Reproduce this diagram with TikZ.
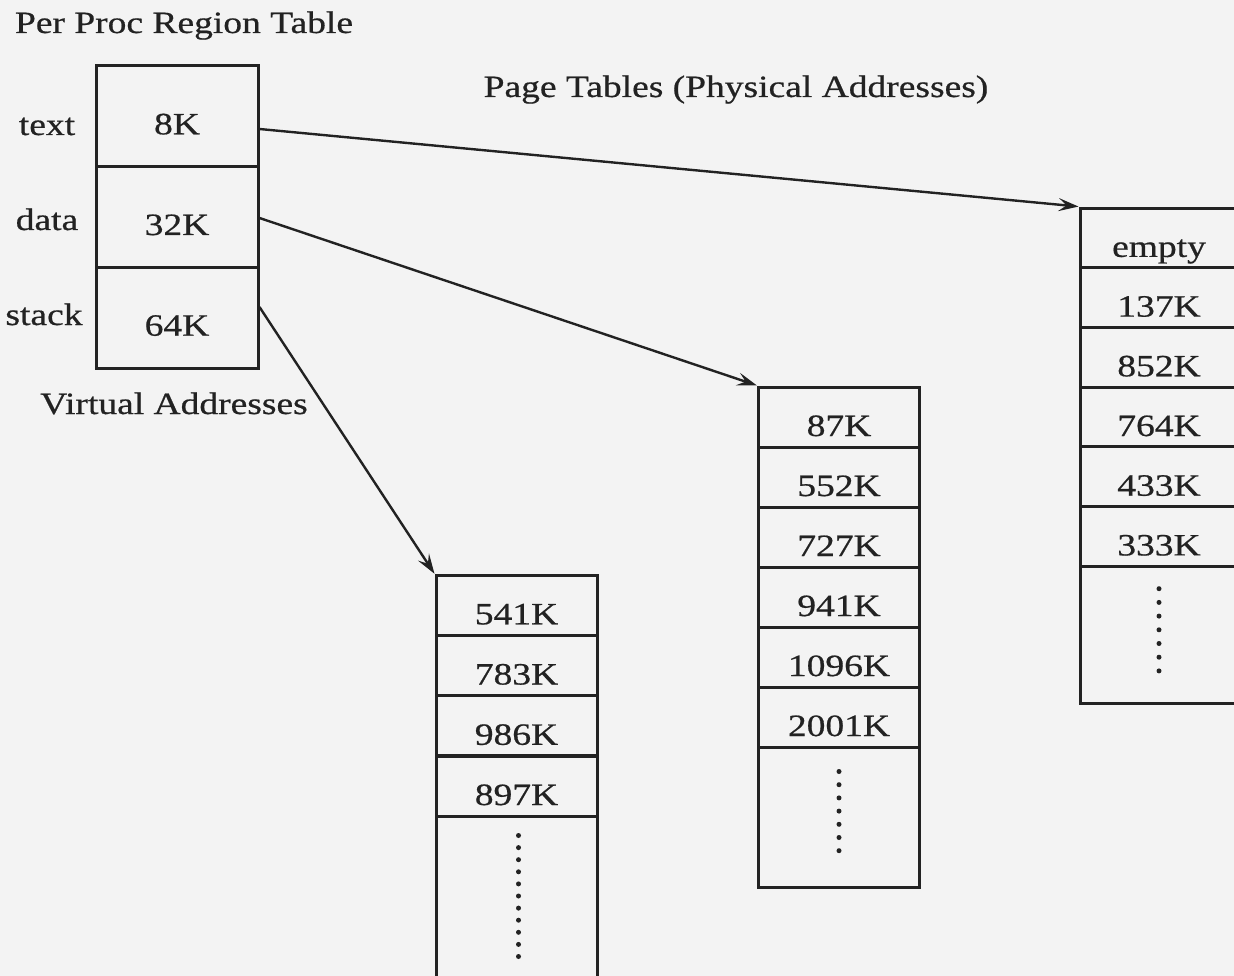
\documentclass[tikz,border=0pt]{standalone}
\usepackage{fontspec}
\setmainfont{Liberation Serif}[FakeStretch=1.21,FakeBold=0.6]
\usetikzlibrary{arrows.meta,calc}
\definecolor{bg}{RGB}{243,243,243}
\definecolor{ink}{RGB}{34,34,34}
\begin{document}
\begin{tikzpicture}[x=1pt,y=-1pt,
  font=\fontsize{31}{36}\selectfont,
  cellbase/.style={draw=ink, line width=3pt, inner sep=0pt, text=ink,
    text depth=0pt},
  rcell/.style={cellbase, minimum width=162pt, minimum height=100.7pt, text height=36pt},
  pcell/.style={cellbase, minimum width=161pt, minimum height=60pt, text height=38pt},
  lbl/.style={text=ink, anchor=base, inner sep=0pt},
  arr/.style={draw=ink, line width=2.4pt, -{Stealth[length=20pt,width=13pt,inset=8pt]}},
  dot/.style={fill=ink}
]
\path[fill=bg] (0,0) rectangle (1234,976);
\clip (0,0) rectangle (1234,976);

% titles
\node[lbl] (t1) at (184,33) {Per Proc Region Table};
\node[lbl] (t2) at (736,97) {Page Tables (Physical Addresses)};
\node[lbl] (t3) at (174,414) {Virtual Addresses};

% per proc region table
\node[rcell] (rt1) at (177,116.3) {8K};
\node[rcell] (rt2) at (177,217) {32K};
\node[rcell] (rt3) at (177,317.7) {64K};
\node[lbl] (ltext) at (47,135) {text};
\node[lbl] (ldata) at (47,230) {data};
\node[lbl] (lstack) at (44,325) {stack};

% left page table (stack)
\node[pcell] (l1) at (516.5,605.3) {541K};
\node[pcell] (l2) at (516.5,665.5) {783K};
\node[pcell] (l3) at (516.5,725.8) {986K};
\node[pcell] (l4) at (516.5,786) {897K};
\node[pcell, minimum height=190pt] (l5) at (516.5,911) {};

% middle page table (data)
\node[pcell] (m1) at (839,417) {87K};
\node[pcell] (m2) at (839,477) {552K};
\node[pcell] (m3) at (839,537) {727K};
\node[pcell] (m4) at (839,597) {941K};
\node[pcell] (m5) at (839,657) {1096K};
\node[pcell] (m6) at (839,717) {2001K};
\node[pcell, minimum height=140pt] (m7) at (839,817) {};

% right page table (text)
\node[pcell, minimum width=158pt, minimum height=59.7pt] (r1) at (1159,237.9) {empty};
\node[pcell, minimum width=158pt, minimum height=59.7pt] (r2) at (1159,297.6) {137K};
\node[pcell, minimum width=158pt, minimum height=59.7pt] (r3) at (1159,357.3) {852K};
\node[pcell, minimum width=158pt, minimum height=59.7pt] (r4) at (1159,417) {764K};
\node[pcell, minimum width=158pt, minimum height=59.7pt] (r5) at (1159,476.7) {433K};
\node[pcell, minimum width=158pt, minimum height=59.7pt] (r6) at (1159,536.4) {333K};
\node[pcell, minimum height=137pt, minimum width=158pt] (r7) at (1159,634.7) {};

% dots
\foreach \k in {0,...,10} \fill[dot] ($(l5.north)+(2,21+12.1*\k)$) circle (2.5pt);
\foreach \k in {0,...,6} \fill[dot] ($(m7.north)+(0,26+13.2*\k)$) circle (2.5pt);
\foreach \k in {0,...,6} \fill[dot] ($(r7.north)+(0,24+13.7*\k)$) circle (2.5pt);

% connectors
\draw[arr] ([yshift=-12.7pt]rt1.east) -- (r1.north west);
\draw[arr] ([yshift=-1pt]rt2.east) -- (m1.north west);
\draw[arr] ([yshift=10.7pt]rt3.east) -- (l1.north west);
\end{tikzpicture}
\end{document}
